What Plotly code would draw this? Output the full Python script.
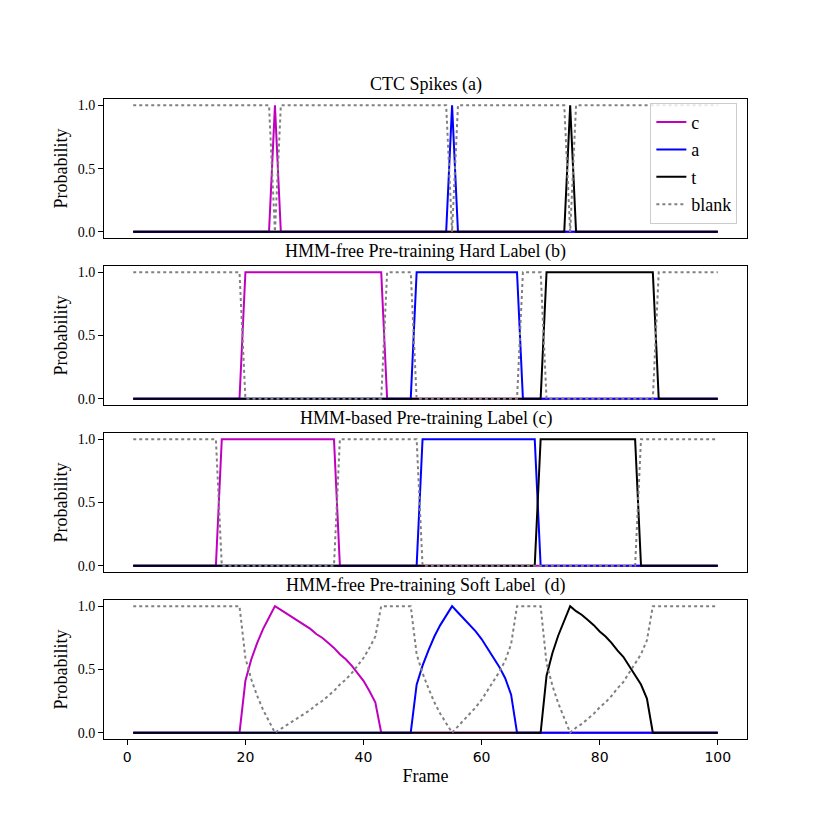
import plotly.graph_objects as go
from plotly.subplots import make_subplots

# panel titles
titles = [
    "CTC Spikes (a)",
    "HMM-free Pre-training Hard Label (b)",
    "HMM-based Pre-training Label (c)",
    "HMM-free Pre-training Soft Label  (d)",
]

# (a) CTC spikes - key frames / probabilities
a_c_x = [1, 24, 25, 26, 100]
a_c_y = [0, 0, 1, 0, 0]
a_a_x = [1, 54, 55, 56, 100]
a_a_y = [0, 0, 1, 0, 0]
a_t_x = [1, 74, 75, 76, 100]
a_t_y = [0, 0, 1, 0, 0]
a_b_x = [1, 24, 25, 26, 54, 55, 56, 74, 75, 76, 100]
a_b_y = [1, 1, 0, 1, 1, 0, 1, 1, 0, 1, 1]

# (b) HMM-free hard label
b_c_x = [1, 19, 20, 43, 44, 100]
b_c_y = [0, 0, 1, 1, 0, 0]
b_a_x = [1, 48, 49, 66, 67, 100]
b_a_y = [0, 0, 1, 1, 0, 0]
b_t_x = [1, 70, 71, 89, 90, 100]
b_t_y = [0, 0, 1, 1, 0, 0]
b_b_x = [1, 19, 20, 43, 44, 48, 49, 66, 67, 70, 71, 89, 90, 100]
b_b_y = [1, 1, 0, 0, 1, 1, 0, 0, 1, 1, 0, 0, 1, 1]

# (c) HMM-based label
c_c_x = [1, 15, 16, 35, 36, 100]
c_c_y = [0, 0, 1, 1, 0, 0]
c_a_x = [1, 49, 50, 69, 70, 100]
c_a_y = [0, 0, 1, 1, 0, 0]
c_t_x = [1, 69, 70, 86, 87, 100]
c_t_y = [0, 0, 1, 1, 0, 0]
c_b_x = [1, 15, 16, 35, 36, 49, 50, 86, 87, 100]
c_b_y = [1, 1, 0, 0, 1, 1, 0, 0, 1, 1]

# (d) HMM-free soft label
d_c_x = [1] + list(range(19, 44)) + [100]
d_c_y = [0, 0, 0.41, 0.58, 0.71, 0.82, 0.91, 1.0, 0.97, 0.94, 0.91, 0.88, 0.85,
         0.82, 0.78, 0.75, 0.71, 0.67, 0.62, 0.58, 0.53, 0.47, 0.41, 0.33, 0.24,
         0, 0]
d_a_x = [1] + list(range(48, 67)) + [100]
d_a_y = [0, 0, 0.38, 0.53, 0.65, 0.76, 0.85, 0.93, 1.0, 0.95, 0.90, 0.85, 0.80,
         0.74, 0.67, 0.60, 0.52, 0.43, 0.30, 0, 0]
d_t_x = [1] + list(range(70, 90)) + [100]
d_t_y = [0, 0, 0.45, 0.63, 0.77, 0.89, 1.0, 0.96, 0.93, 0.89, 0.85, 0.80, 0.76,
         0.71, 0.65, 0.60, 0.53, 0.46, 0.38, 0.27, 0, 0]
d_b_x = [1] + list(range(19, 44)) + list(range(48, 67)) + list(range(70, 90)) + [100]
d_b_y = [1,
         1, 0.59, 0.42, 0.29, 0.18, 0.09, 0, 0.03, 0.06, 0.09, 0.12, 0.15, 0.18,
         0.22, 0.25, 0.29, 0.33, 0.38, 0.42, 0.47, 0.53, 0.59, 0.67, 0.76, 1,
         1, 0.62, 0.47, 0.35, 0.24, 0.15, 0.07, 0, 0.05, 0.10, 0.15, 0.20, 0.26,
         0.33, 0.40, 0.48, 0.57, 0.70, 1,
         1, 0.55, 0.37, 0.23, 0.11, 0, 0.04, 0.07, 0.11, 0.15, 0.20, 0.24, 0.29,
         0.35, 0.40, 0.47, 0.54, 0.62, 0.73, 1,
         1]

panels = [
    [(a_c_x, a_c_y), (a_a_x, a_a_y), (a_t_x, a_t_y), (a_b_x, a_b_y)],
    [(b_c_x, b_c_y), (b_a_x, b_a_y), (b_t_x, b_t_y), (b_b_x, b_b_y)],
    [(c_c_x, c_c_y), (c_a_x, c_a_y), (c_t_x, c_t_y), (c_b_x, c_b_y)],
    [(d_c_x, d_c_y), (d_a_x, d_a_y), (d_t_x, d_t_y), (d_b_x, d_b_y)],
]
names = ["c", "a", "t", "blank"]
colors = ["#bf00bf", "#0000ff", "#000000", "#808080"]
dashes = ["solid", "solid", "solid", "dot"]

SERIF = "Liberation Serif"

fig = make_subplots(rows=4, cols=1, vertical_spacing=27.7 / 639,
                    subplot_titles=titles)

for r, series in enumerate(panels, start=1):
    for k, (xs, ys) in enumerate(series):
        fig.add_trace(go.Scatter(
            x=xs, y=ys, mode="lines", name=names[k],
            line=dict(color=colors[k], width=2, dash=dashes[k]),
            showlegend=(r == 1), legendgroup=names[k],
        ), row=r, col=1)
    fig.update_yaxes(range=[-0.05, 1.05], tickvals=[0, 0.5, 1],
                     ticktext=["0.0", "0.5", "1.0"], ticks="outside", ticklen=5,
                     tickcolor="black", showline=True, mirror=True,
                     linecolor="black", linewidth=1, showgrid=False,
                     zeroline=False, automargin=False,
                     tickfont=dict(family=SERIF, size=14, color="black"),
                     title=dict(text="Probability", standoff=5,
                                font=dict(family=SERIF, size=18, color="black")),
                     row=r, col=1)
    fig.update_xaxes(range=[-3.95, 104.95], showline=True, mirror=True,
                     linecolor="black", linewidth=1, showgrid=False,
                     zeroline=False, automargin=False, row=r, col=1)
    if r < 4:
        fig.update_xaxes(showticklabels=False, ticks="", row=r, col=1)

fig.update_xaxes(tickvals=[0, 20, 40, 60, 80, 100], ticks="outside", ticklen=5,
                 tickcolor="black",
                 tickfont=dict(family="DejaVu Sans", size=14, color="black"),
                 title=dict(text="Frame", standoff=5,
                            font=dict(family=SERIF, size=18, color="black")),
                 row=4, col=1)

for ann in fig.layout.annotations:
    ann.font = dict(family=SERIF, size=18, color="black")
    ann.yshift = 2

# page has an 8px body margin, so the margins are offset by it
fig.update_layout(
    width=830, height=830,
    margin=dict(l=96, r=91, t=91, b=99),
    paper_bgcolor="white", plot_bgcolor="white",
    legend=dict(x=0.985, y=0.994, xanchor="right", yanchor="top",
                bgcolor="rgba(255,255,255,0.8)", bordercolor="#cccccc",
                borderwidth=1, tracegroupgap=1, traceorder="grouped",
                font=dict(family=SERIF, size=18, color="black")),
)

fig.write_html("out.html")
